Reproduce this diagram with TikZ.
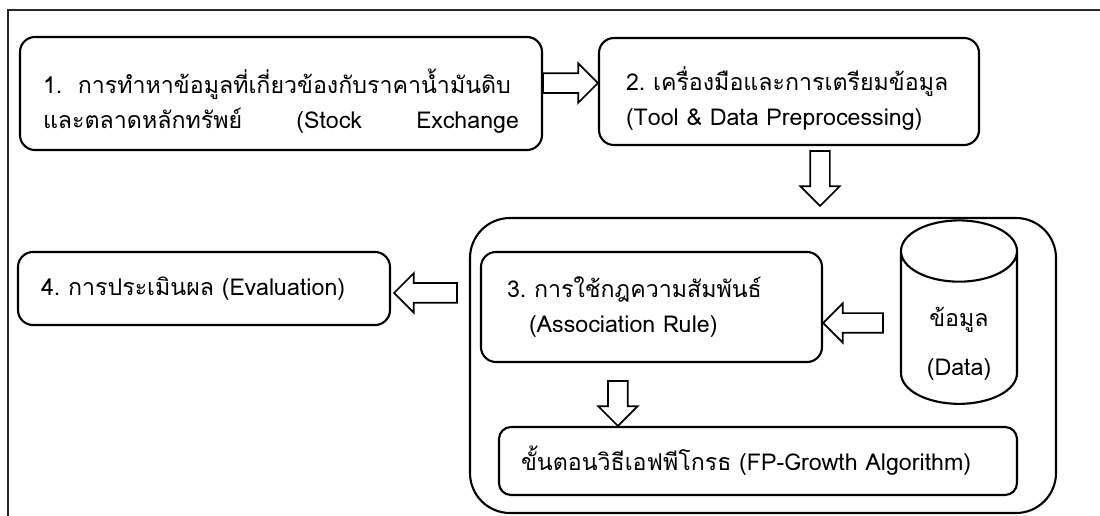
\documentclass[tikz,border=0pt]{standalone}
\usepackage{fontspec}
\setmainfont[Script=Thai]{Loma}
\usetikzlibrary{calc,shapes.geometric}
\newcommand{\thaitext}{\fontsize{16.5}{25}\selectfont}

\begin{document}
\begin{tikzpicture}[
        stepbox/.style={
            draw,
            line width=1.5pt,
            rounded corners=0.375cm,
            inner xsep=0.575cm,
            align=left,
            font=\thaitext
        },
        hollow/.style={
            draw, line width=1.2pt, fill=white, line join=miter,
            to path={
                let \p1=(\tikztostart), \p2=(\tikztotarget),
                    \n1={veclen(\x2-\x1,\y2-\y1)},
                    \n2={(\x2-\x1)/\n1}, \n3={(\y2-\y1)/\n1},
                    \n4={\n1-14pt}
                in ({\x1-\n3*7pt}, {\y1+\n2*7pt})
                -- ({\x1+\n2*\n4-\n3*7pt}, {\y1+\n3*\n4+\n2*7pt})
                -- ({\x1+\n2*\n4-\n3*14pt}, {\y1+\n3*\n4+\n2*14pt})
                -- (\x2,\y2)
                -- ({\x1+\n2*\n4+\n3*14pt}, {\y1+\n3*\n4-\n2*14pt})
                -- ({\x1+\n2*\n4+\n3*7pt}, {\y1+\n3*\n4-\n2*7pt})
                -- ({\x1+\n3*7pt}, {\y1-\n2*7pt})
                -- cycle
            }
        }
    ]
        \useasboundingbox (0,0) rectangle (27.5,-12.9);
        \draw[line width=1pt, black!85] (0.2,-12.9) -- (0.2,-0.25) -- (27.5,-0.25);

        \node[stepbox, text width=11.9cm, minimum height=2.825cm] (collect) at (7.025,-2.3375)
        {\rule{0pt}{1.0cm}1.~~การทำหาข้อมูลที่เกี่ยวข้องกับราคาน้ำมันดิบ\\
        และตลาดหลักทรัพย์\hfill(Stock\hfill Exchange};

        \node[stepbox, text width=8.15cm, inner xsep=0.675cm, minimum height=2.675cm] (prep) at (19.725,-2.2875)
        {\rule{0pt}{0.95cm}2.~เครื่องมือและการเตรียมข้อมูล\\
        (Tool~\&~Data~Preprocessing)};

        \node[draw, line width=1.5pt, rounded corners=1cm,
            minimum width=14.65cm, minimum height=7.375cm] (stage) at (19.075,-9.1375) {};

        \node[stepbox, text width=7.225cm, inner xsep=0.65cm, minimum height=2.75cm] (rules) at (16.2875,-7.675)
        {3.~การใช้กฎความสัมพันธ์\\
        \hspace*{0.55cm}(Association~Rule)};

        \node[draw, line width=1.5pt, cylinder, shape border rotate=90, aspect=0.83,
            minimum width=2.9cm, minimum height=4.45cm, align=center,
            font=\thaitext] (data) at (23.975,-8.35)
        {\\[0.1cm]ข้อมูล\\[0.35cm](Data)};

        \node[stepbox, text width=8.15cm, minimum height=1.825cm] (evaluation) at (5.1,-7.2125)
        {4.~การประเมินผล~(Evaluation)};

        \node[stepbox, text width=11.85cm, inner xsep=0.55cm, minimum height=1.7cm,
            rounded corners=0.3cm] (fpgrowth) at (18.95,-11.525)
        {ขั้นตอนวิธีเอฟพีโกรธ~(FP-Growth~Algorithm)};

        % block arrows between the steps
        \coordinate (a1) at ([yshift=0.26cm]collect.east);
        \coordinate (a2) at ([xshift=0.775cm,yshift=-0.125cm]prep.south);
        \coordinate (a3) at ([xshift=-0.425cm,yshift=0.275cm]data.west);
        \coordinate (a4) at ($(stage.west |- evaluation.east)+(-0.3,-0.11)$);
        \coordinate (a5) at ([xshift=-0.84cm,yshift=-0.45cm]rules.south);

        \draw[hollow] (a1) to (a1 -| prep.west);
        \draw[hollow] (a2) to ($(a2 |- stage.north)+(0,0.275)$);
        \draw[hollow] (a3) to (a3 -| rules.east);
        \draw[hollow] (a4) to ($(a4 -| evaluation.east)+(0.075,0)$);
        \draw[hollow] (a5) to (a5 |- fpgrowth.north);
    \end{tikzpicture}
\end{document}
